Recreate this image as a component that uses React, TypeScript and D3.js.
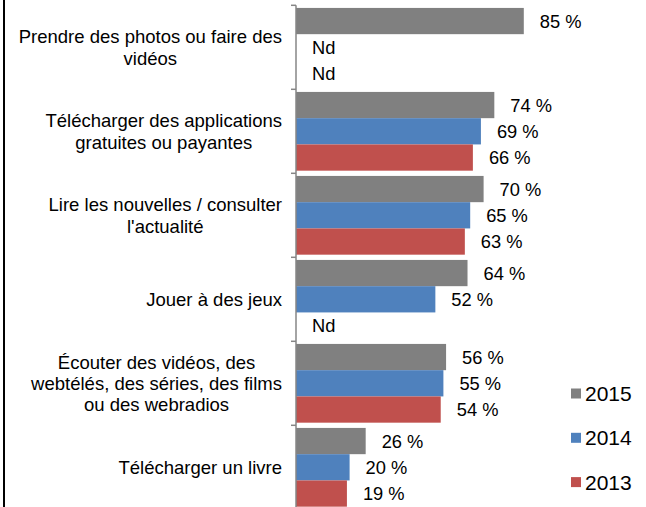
import * as d3 from "d3";
import { useEffect, useRef } from "react";

const categories = [
  "Prendre des photos ou faire des\nvidéos",
  "Télécharger des applications\ngratuites ou payantes",
  "Lire les nouvelles / consulter\nl'actualité",
  "Jouer à des jeux",
  "Écouter des vidéos, des\nwebtélés, des séries, des films\nou des webradios",
  "Télécharger un livre",
];
const years = ["2015", "2014", "2013"];
const values2015 = [85, 74, 70, 64, 56, 26];
const values2014 = [null, 69, 65, 52, 55, 20];
const values2013 = [null, 66, 63, null, 54, 19];
const colors = ["#808080", "#4F81BD", "#C0504D"];

export default function App() {
  const svgRef = useRef<SVGSVGElement>(null);
  const svgWidth = 646;
  const svgHeight = 507;
  const font = "'Liberation Sans', Arial, sans-serif";

  useEffect(() => {
    const svg = d3.select(svgRef.current);
    svg.selectAll("*").remove();

    const series = [values2015, values2014, values2013];
    const axisX = 296;
    const xScale = d3.scaleLinear([0, 100], [axisX, 564]);
    const yScale = d3.scaleBand(d3.range(categories.length), [5.3, 509.3]).paddingInner(0).paddingOuter(0);
    const yInner = d3.scaleBand(d3.range(years.length), [0, yScale.bandwidth()]).paddingOuter(0.1).paddingInner(0);

    // left frame line
    svg.append("line")
      .attr("x1", 4).attr("x2", 4).attr("y1", 0).attr("y2", svgHeight)
      .attr("stroke", "#000").attr("stroke-width", 2);

    // bars + labels
    series.forEach((vals, s) => {
      vals.forEach((v, i) => {
        const y0 = yScale(i)! + yInner(s)!;
        const h = yInner.bandwidth();
        if (v !== null) {
          svg.append("rect")
            .attr("x", axisX)
            .attr("y", y0)
            .attr("width", xScale(v) - axisX)
            .attr("height", h)
            .attr("fill", colors[s]);
        }
        svg.append("text")
          .attr("x", xScale(v ?? 0) + 16)
          .attr("y", y0 + h / 2)
          .attr("dy", "0.36em")
          .attr("font-family", font)
          .attr("font-size", 18.3)
          .attr("fill", "#000")
          .text(v === null ? "Nd" : `${v} %`);
      });
    });

    // axis
    svg.append("line")
      .attr("x1", axisX).attr("x2", axisX).attr("y1", 5.3).attr("y2", svgHeight)
      .attr("stroke", "#868686").attr("stroke-width", 1.5);
    d3.range(categories.length + 1).forEach((i) => {
      const y = i < categories.length ? yScale(i)! : yScale(categories.length - 1)! + yScale.bandwidth();
      svg.append("line")
        .attr("x1", axisX - 5).attr("x2", axisX).attr("y1", y).attr("y2", y)
        .attr("stroke", "#868686").attr("stroke-width", 1.5);
    });

    // category labels
    const lh = 21.3;
    categories.forEach((c, i) => {
      const lines = c.split("\n");
      const cy = yScale(i)! + yScale.bandwidth() / 2;
      const g = svg.append("g");
      const texts = lines.map((line, k) =>
        g.append("text")
          .attr("x", 0)
          .attr("y", cy - ((lines.length - 1) * lh) / 2 + k * lh)
          .attr("dy", "0.36em")
          .attr("text-anchor", "middle")
          .attr("font-family", font)
          .attr("font-size", 18.5)
          .attr("fill", "#000")
          .text(line)
      );
      const maxW = d3.max(texts, (t) => (t.node() as SVGTextElement).getComputedTextLength()) ?? 0;
      g.attr("transform", `translate(${282 - maxW / 2},0)`);
    });

    // legend
    years.forEach((yr, s) => {
      const cy = 393.5 + s * 44.3;
      svg.append("rect")
        .attr("x", 571).attr("y", cy - 5).attr("width", 10).attr("height", 10)
        .attr("fill", colors[s]);
      svg.append("text")
        .attr("x", 585).attr("y", cy).attr("dy", "0.36em")
        .attr("font-family", font).attr("font-size", 21)
        .attr("fill", "#000")
        .text(yr);
    });
  }, []);

  return (
    <svg
      ref={svgRef}
      width={svgWidth}
      height={svgHeight}
      style={{ position: "absolute", left: 0, top: 0, background: "#fff" }}
      xmlns="http://www.w3.org/2000/svg"
    />
  );
}
